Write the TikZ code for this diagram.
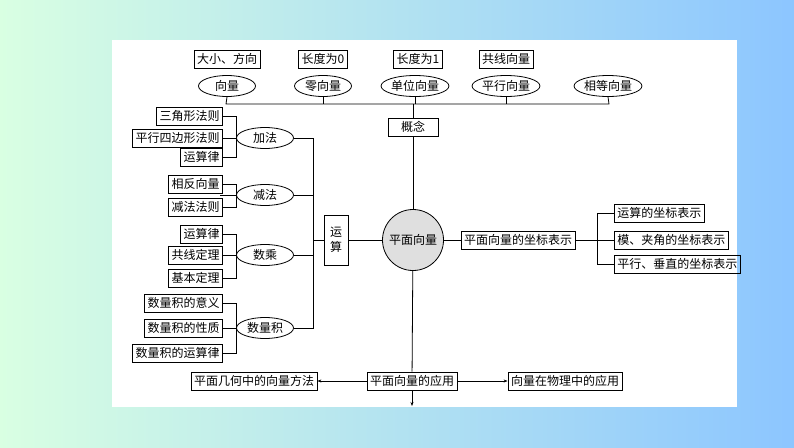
\documentclass[tikz,border=0pt]{standalone}
\usepackage{fontspec}
\setmainfont{Noto Sans CJK SC}
\usetikzlibrary{shapes.geometric,arrows.meta}
\begin{document}
\begin{tikzpicture}[x=1pt,y=-1pt,font=\fontsize{12}{13}\selectfont,
 bx/.style={draw,line width=0.8pt,inner xsep=3pt,inner ysep=1pt,minimum height=18pt},
 el/.style={draw,ellipse,line width=0.8pt,minimum width=57pt,minimum height=21pt,inner sep=0pt},
 ln/.style={line width=0.8pt},
 ar/.style={line width=0.8pt,-{Stealth[length=4pt,width=3pt]}}]
\useasboundingbox (0,0) rectangle (794,447);
\shade[left color=cyan!25!green!15,right color=cyan!50!blue!45] (0,0) rectangle (794,447);
\fill[white] (112,40) rectangle (737,407);
% top
\node[bx] (t1) at (227,59) {大小、方向};
\node[bx] (t2) at (323,59) {长度为0};
\node[bx] (t3) at (418,59) {长度为1};
\node[bx] (t4) at (506,59) {共线向量};
\node[el] (e1) at (227,86) {向量};
\node[el] (e2) at (323,86) {零向量};
\node[el] (e3) at (415,86) {单位向量};
\node[el] (e4) at (506,86) {平行向量};
\node[el] (e5) at (608,86) {相等向量};
\coordinate (hl) at (226,104); \coordinate (hr) at (609,104);
\draw[ln] (e1.south) -- (hl) -- (hr) -- (e5.south);
\foreach \e in {e2,e3,e4} \draw[ln] (\e.south) -- (\e.south |- hl);
\node[bx,minimum width=50pt] (gn) at (413,127) {概念};
\draw[ln] (gn.north) -- (gn.north |- hl);
\node[draw,circle,fill=gray!25,line width=0.8pt,minimum size=61pt,inner sep=0pt] (c) at (413,240) {平面向量};
\draw[ln] (gn) -- (c);
% left
\node[bx,align=center,minimum width=24pt,minimum height=50pt,font=\fontsize{12}{15}\selectfont] (ys) at (336,240) {运\\算};
\draw[ln] (c) -- (ys);
\node[el] (a1) at (265,138) {加法};
\node[el] (a2) at (265,195) {减法};
\node[el] (a3) at (265,255) {数乘};
\node[el] (a4) at (265,328) {数量积};
\coordinate (tt) at (313,138); \coordinate (tb) at (313,328);
\draw[ln] (a1.east) -- (tt) -- (tb) -- (a4.east);
\draw[ln] (a2.east) -- (a2.east -| tt);
\draw[ln] (a3.east) -- (a3.east -| tt);
\draw[ln] (ys.west) -- (ys.west -| tt);
\node[bx,anchor=east] (b1) at (223,116) {三角形法则};
\node[bx,anchor=east] (b2) at (223,138) {平行四边形法则};
\node[bx,anchor=east] (b3) at (223,157) {运算律};
\node[bx,anchor=east] (b4) at (223,184) {相反向量};
\node[bx,anchor=east] (b5) at (223,207) {减法法则};
\node[bx,anchor=east] (b6) at (223,234) {运算律};
\node[bx,anchor=east] (b7) at (223,255) {共线定理};
\node[bx,anchor=east] (b8) at (223,278) {基本定理};
\node[bx,anchor=east] (b9) at (223,303) {数量积的意义};
\node[bx,anchor=east] (b10) at (223,328) {数量积的性质};
\node[bx,anchor=east] (b11) at (223,353) {数量积的运算律};
\foreach \t/\m/\b/\e in {b1/b2/b3/a1,b6/b7/b8/a3,b9/b10/b11/a4}{
 \draw[ln] (\t.east) -- ++(13,0) |- (\b.east);
 \draw[ln] (\m.east) -- (\e.west);}
\draw[ln] (b4.east) -- ++(13,0) |- (b5.east);
\draw[ln] (a2.west) -- ++(-16,0);
% right
\node[bx] (zb) at (518,240) {平面向量的坐标表示};
\draw[ln] (c) -- (zb);
\node[bx,anchor=west] (r1) at (614,213) {运算的坐标表示};
\node[bx,anchor=west] (r2) at (614,240) {模、夹角的坐标表示};
\node[bx,anchor=west] (r3) at (614,264) {平行、垂直的坐标表示};
\draw[ln] (zb.east) -- (r2.west);
\draw[ln] (r1.west) -- ++(-17,0) |- (r3.west);
% bottom
\node[bx] (yy) at (412,381) {平面向量的应用};
\node[bx] (yl) at (254,381) {平面几何中的向量方法};
\node[bx] (yr) at (565,381) {向量在物理中的应用};
\coordinate (dn) at (412,406);
\draw[ln] (c) -- (yy);
\draw[ar] (yy) -- (yl);
\draw[ar] (yy) -- (yr);
\draw[ar] (yy) -- (dn);
\end{tikzpicture}
\end{document}
